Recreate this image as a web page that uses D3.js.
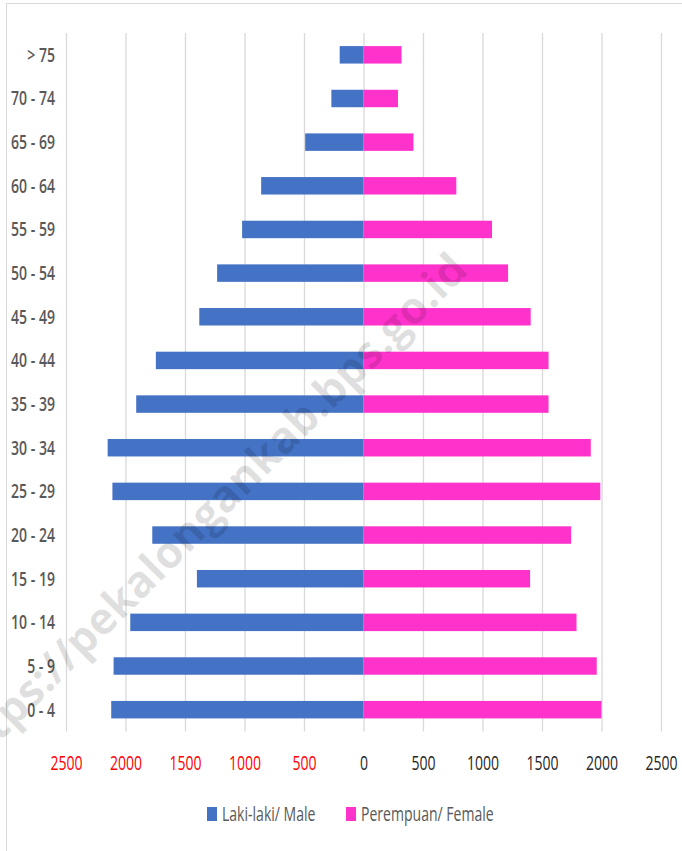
<!DOCTYPE html>
<html>
<head>
<meta charset="utf-8">
<script src="https://cdn.jsdelivr.net/npm/d3@7"></script>
<style>
  body { margin: 0; background: #fff; }
  svg text { font-family: "Open Sans", "Liberation Sans", sans-serif; }
</style>
</head>
<body>
<svg id="chart" width="682" height="851"></svg>
<script>
//
// Data
//

// age groups, top to bottom
const ageGroups = ["> 75", "70 - 74", "65 - 69", "60 - 64", "55 - 59", "50 - 54",
  "45 - 49", "40 - 44", "35 - 39", "30 - 34", "25 - 29", "20 - 24",
  "15 - 19", "10 - 14", "5 - 9", "0 - 4"];
// Laki-laki / Male
const male = [200, 270, 490, 860, 1020, 1230, 1380, 1745, 1910, 2150, 2110, 1775, 1400, 1960, 2100, 2120];
// Perempuan / Female
const female = [320, 290, 420, 780, 1080, 1215, 1405, 1555, 1555, 1910, 1990, 1745, 1400, 1790, 1960, 2000];
const xTicks = [-2500, -2000, -1500, -1000, -500, 0, 500, 1000, 1500, 2000, 2500];
const seriesNames = ["Laki-laki/ Male", "Perempuan/ Female"];

//
// Configuration
//

const colorMale = "#4472c4";
const colorFemale = "#ff33cc";
const colorGrid = "#d9d9d9";
const fontSize = 19.5;
const squeeze = 0.72; // text in the picture is horizontally condensed
const plot = { left: 66, right: 661, top: 33, bottom: 731.5 };

//
// Chart
//

const svg = d3.select("#chart");

// chart area border
svg.append("rect")
  .attr("x", 6.5).attr("y", 3.5)
  .attr("width", 700).attr("height", 900)
  .attr("fill", "none")
  .attr("stroke", colorGrid);

const x = d3.scaleLinear().domain([-2500, 2500]).range([plot.left, plot.right]);
const y = d3.scaleBand().domain(ageGroups)
  .range([plot.top, plot.bottom])
  .paddingInner(0.6).paddingOuter(0.3);

// gridlines
const grid = svg.append("g")
  .attr("transform", `translate(0,${plot.bottom})`)
  .call(d3.axisBottom(x).tickValues(xTicks).tickSize(-(plot.bottom - plot.top)).tickFormat(""));
grid.select(".domain").remove();
grid.selectAll("line").attr("stroke", colorGrid).attr("stroke-width", 1.3);

// bars
const rows = ageGroups.map((g, i) => ({ group: g, male: male[i], female: female[i] }));

svg.append("g").selectAll("rect")
  .data(rows)
  .join("rect")
  .attr("x", d => x(-d.male))
  .attr("y", d => y(d.group))
  .attr("width", d => x(0) - x(-d.male))
  .attr("height", y.bandwidth())
  .attr("fill", colorMale);

svg.append("g").selectAll("rect")
  .data(rows)
  .join("rect")
  .attr("x", x(0))
  .attr("y", d => y(d.group))
  .attr("width", d => x(d.female) - x(0))
  .attr("height", y.bandwidth())
  .attr("fill", colorFemale);

// x tick labels
const xAxis = svg.append("g")
  .attr("transform", `translate(0,${plot.bottom})`)
  .call(d3.axisBottom(x).tickValues(xTicks).tickSize(0).tickPadding(0).tickFormat(d => Math.abs(d)));
xAxis.select(".domain").remove();
xAxis.selectAll("text")
  .attr("y", 0).attr("dy", 0)
  .attr("transform", `translate(0,38) scale(${squeeze},1)`)
  .attr("font-size", fontSize)
  .attr("fill", d => d < 0 ? "#ff0000" : "#262626");

// age group labels
svg.append("g").selectAll("text")
  .data(ageGroups)
  .join("text")
  .attr("transform", d => `translate(55,${y(d) + y.bandwidth() / 2 + 7}) scale(${squeeze},1)`)
  .attr("text-anchor", "end")
  .attr("font-size", fontSize)
  .attr("font-weight", 600)
  .attr("fill", "#595959")
  .text(d => d);

// legend
const legendItems = [
  { name: seriesNames[0], color: colorMale, x: 207 },
  { name: seriesNames[1], color: colorFemale, x: 346 }
];
const legend = svg.append("g").selectAll("g")
  .data(legendItems)
  .join("g")
  .attr("transform", d => `translate(${d.x},807)`);
legend.append("rect")
  .attr("width", 10).attr("height", 14)
  .attr("fill", d => d.color);
legend.append("text")
  .attr("transform", `translate(15,14) scale(${squeeze},1)`)
  .attr("font-size", fontSize)
  .attr("fill", "#595959")
  .text(d => d.name);

// watermark (runs off the lower left edge, as in the picture)
svg.append("text")
  .attr("transform", "translate(470,272) rotate(-45)")
  .attr("text-anchor", "end")
  .attr("font-size", 44)
  .attr("font-weight", "bold")
  .attr("fill", "#000")
  .attr("fill-opacity", 0.12)
  .text("https://pekalongankab.bps.go.id");
</script>
</body>
</html>
